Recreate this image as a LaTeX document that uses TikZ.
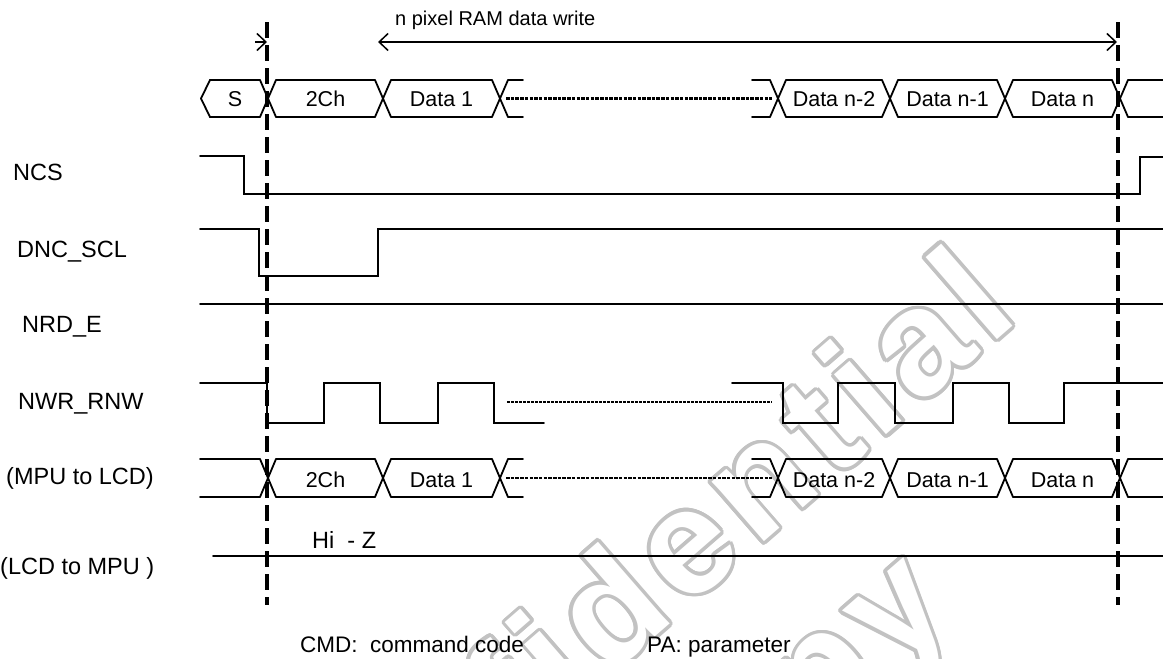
\documentclass[tikz,border=0pt]{standalone}
\usepackage{fontspec}
\setmainfont{Liberation Sans}
\newfontfamily\wmfont[LetterSpace=7]{Liberation Sans}
\usetikzlibrary{arrows.meta}
\begin{document}
\begin{tikzpicture}[x=1pt,y=-1pt,
  >={Straight Barb[length=9pt,width=17pt]},
  sig/.style={line width=1.8pt, line cap=round, line join=miter},
  guide/.style={line width=3.5pt, dash pattern=on 16pt off 7pt},
  busdots/.style={line width=2.8pt, dash pattern=on 3.5pt off 1.2pt},
  clkdots/.style={line width=2pt, dash pattern=on 3pt off 1pt},
  dimline/.style={line width=1.5pt},
  lbl/.style={font=\fontsize{23.5}{28}\selectfont, anchor=base west, inner sep=0pt},
  bustxt/.style={font=\fontsize{21.5}{26}\selectfont, anchor=base, inner sep=0pt},
  note/.style={font=\fontsize{20}{24}\selectfont, anchor=base west, inner sep=0pt},
  foot/.style={font=\fontsize{22.5}{27}\selectfont, anchor=base west, inner sep=0pt},
  wmtext/.style={font=\wmfont\bfseries\fontsize{150}{170}\selectfont, anchor=base, rotate=41, inner sep=0pt}
]
\useasboundingbox (0,0) rectangle (1163,659);
\fill[white] (0,0) rectangle (1163,659);

% ---------- watermark (outlined light grey text) ----------
\begin{scope}
\clip (0,0) rectangle (1163,659);
\foreach \a in {0,20,...,340}{
  \node[wmtext, text=black!24, xshift={3.5*cos(\a)}, yshift={3.5*sin(\a)}] at (650,641) {Confidential};
  \node[wmtext, text=black!24, xshift={3.5*cos(\a)}, yshift={3.5*sin(\a)}] at (812,742) {copy};
}
\node[wmtext, text=white] (wm1) at (650,641) {Confidential};
\node[wmtext, text=white] (wm2) at (812,742) {copy};
\end{scope}

% ---------- vertical guides ----------
\coordinate (gLt) at (267,22);
\coordinate (gLb) at (267,605);
\coordinate (gRt) at (1118,22);
\coordinate (gRb) at (1118,605);
\draw[guide] (gLt) -- (gLb);
\draw[guide] (gRt) -- (gRb);

% ---------- top dimension ----------
\coordinate (aL) at (378,42);
\coordinate (aR) at (1117,42);
\coordinate (sA) at (255,42);
\coordinate (sB) at (267,42);
\draw[dimline, <->] (aL) -- (aR);
\draw[dimline, ->] (sA) -- (sB);
\node[note] (title) at (395,25) {n pixel RAM data write};

% ---------- buses ----------
\foreach \c in {268,383,500,778,890,1005,1120}{
  \draw[sig] (\c-8,80) -- (\c+8,117) (\c-8,117) -- (\c+8,80);
  \draw[sig] (\c-8,459) -- (\c+8,497) (\c-8,497) -- (\c+8,459);
}
\foreach \a/\b in {276/375,391/492,786/882,898/997,1013/1112,1128/1163,508/523,752/770}{
  \draw[sig] (\a,80) -- (\b,80) (\a,117) -- (\b,117);
  \draw[sig] (\a,459) -- (\b,459) (\a,497) -- (\b,497);
}
\draw[sig] (260,80) -- (210,80) -- (201,98.5) -- (210,117) -- (260,117);
\draw[sig] (200,459) -- (260,459) (200,497) -- (260,497);
\draw[busdots] (506,98.5) -- (772,98.5);
\draw[busdots] (506,478) -- (772,478);

\node[bustxt] (s0)  at (235,106) {S};
\node[bustxt] (t1)  at (325.5,106) {2Ch};
\node[bustxt] (t2)  at (441.5,106) {Data 1};
\node[bustxt] (t3)  at (834,106) {Data n-2};
\node[bustxt] (t4)  at (947.5,106) {Data n-1};
\node[bustxt] (t5)  at (1062.5,106) {Data n};
\node[bustxt] (b1)  at (325.5,487) {2Ch};
\node[bustxt] (b2)  at (441.5,487) {Data 1};
\node[bustxt] (b3)  at (834,487) {Data n-2};
\node[bustxt] (b4)  at (947.5,487) {Data n-1};
\node[bustxt] (b5)  at (1062.5,487) {Data n};

% ---------- signals ----------
\draw[sig] (200,156) -- (244,156) -- (244,194) -- (1140,194) -- (1140,157) -- (1163,157);
\draw[sig] (200,229) -- (259,229) -- (259,276) -- (378,276) -- (378,229) -- (1163,229);
\draw[sig] (200,304) -- (1163,304);
\draw[sig] (200,383) -- (267,383) -- (267,423) -- (324,423) -- (324,383) -- (380,383)
  -- (380,423) -- (438,423) -- (438,383) -- (494,383) -- (494,423) -- (544,423);
\draw[clkdots] (507,402) -- (772,402);
\draw[sig] (732,383) -- (783,383) -- (783,423) -- (838,423) -- (838,383) -- (895,383)
  -- (895,423) -- (953,423) -- (953,383) -- (1009,383) -- (1009,423) -- (1064,423)
  -- (1064,383) -- (1163,383);
\draw[sig] (213,556) -- (1163,556);

% ---------- labels ----------
\node[lbl] (lncs) at (13,180) {NCS};
\node[lbl] (ldnc) at (17,257) {DNC\_SCL};
\node[lbl] (lnrd) at (22,332) {NRD\_E};
\node[lbl] (lnwr) at (18,409) {NWR\_RNW};
\node[lbl] (lmpu) at (6,484) {(MPU to LCD)};
\node[lbl] (llcd) at (0,574) {(LCD to MPU )};
\node[lbl] (hiz)  at (312,548) {Hi\ \ - Z};
\node[foot] (cmd) at (300,652) {CMD:\ \ command code};
\node[foot] (pa)  at (647,652) {PA: parameter};
\end{tikzpicture}
\end{document}
